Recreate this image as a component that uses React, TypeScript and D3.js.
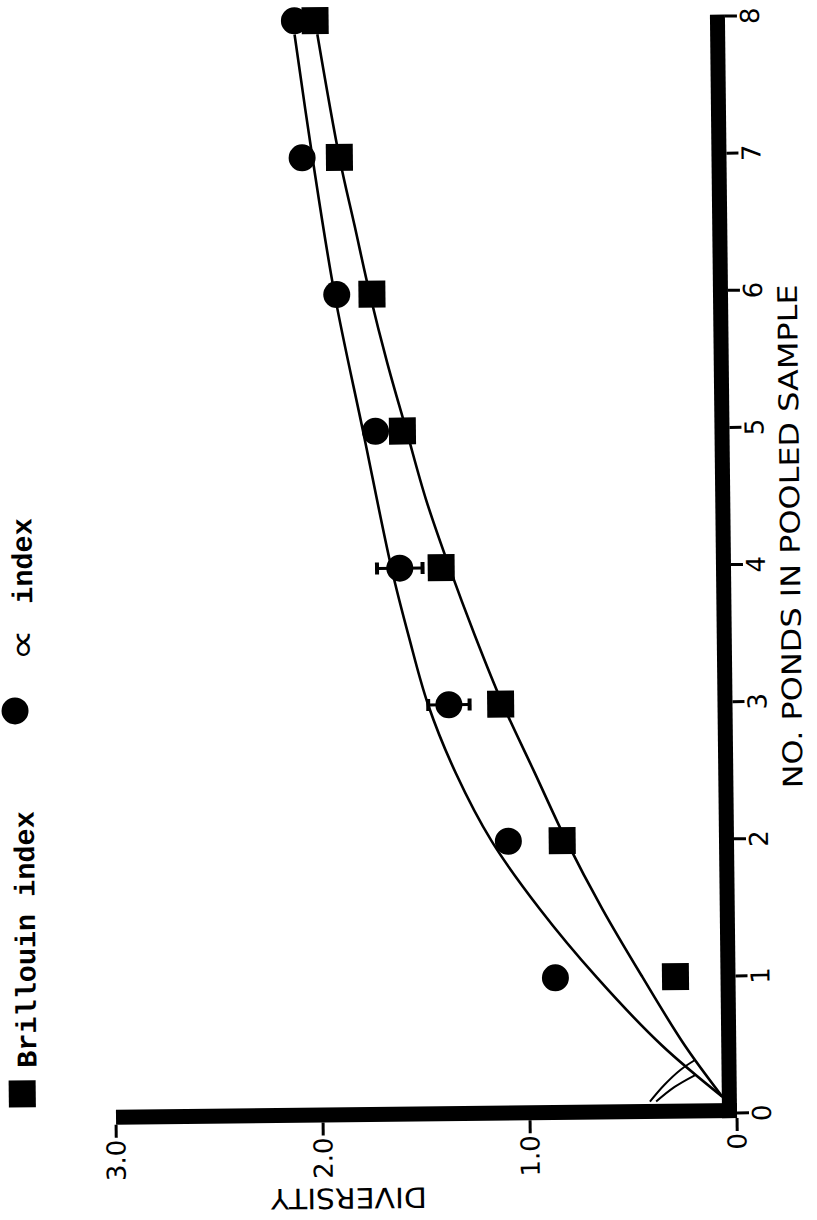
import React, { useEffect, useRef } from 'react';
import * as d3 from 'd3';

const ponds = [1, 2, 3, 4, 5, 6, 7, 8];
const alphaIndex = [0.87, 1.09, 1.37, 1.6, 1.71, 1.89, 2.05, 2.08];
const brillouinIndex = [0.29, 0.83, 1.12, 1.4, 1.58, 1.72, 1.87, 1.98];
const alphaErrPonds = [3, 4];
const alphaErr = [0.1, 0.11];

// hand drawn fitted curves (ponds, diversity)
const alphaFitP = [0.12, 0.5, 1.0, 1.5, 2.0, 2.5, 3.0, 3.5, 4.0, 5.0, 6.0, 7.0, 7.9];
const alphaFitD = [0.07, 0.36, 0.67, 0.94, 1.17, 1.34, 1.47, 1.56, 1.64, 1.77, 1.9, 2.0, 2.08];
const brillFitP = [0.12, 0.5, 1.0, 1.5, 2.0, 2.5, 3.0, 3.5, 4.0, 4.5, 5.0, 5.5, 6.0, 6.5, 7.0, 7.9];
const brillFitD = [0.07, 0.25, 0.45, 0.64, 0.81, 0.96, 1.11, 1.24, 1.36, 1.47, 1.56, 1.65, 1.73, 1.8, 1.87, 1.97];
const hookBP = [0.09, 0.21, 0.32, 0.39];
const hookBD = [0.42, 0.35, 0.27, 0.2];
const hookAP = [0.09, 0.195, 0.28];
const hookAD = [0.39, 0.3, 0.2];

const pondTicks = [0, 1, 2, 3, 4, 5, 6, 7, 8];
const diversityTicks = [0, 1, 2, 3];
const diversityLabels = ['0', '1.0', '2.0', '3.0'];

const App = () => {
  const svgRef = useRef<SVGSVGElement>(null);

  useEffect(() => {
    const root = d3.select(svgRef.current);
    root.selectAll('*').remove();

    // diversity runs right-to-left, ponds bottom-to-top (figure is turned on its side)
    const x = d3.scaleLinear().domain([0, 3]).range([737, 116]);
    const y = d3.scaleLinear().domain([0, 8]).range([1113, 16]);

    // the scan is slightly tilted
    const g = root.append('g').attr('transform', `rotate(-0.63, ${x(0)}, ${y(0)})`);

    const sans = "'DejaVu Sans', sans-serif";
    const mono = "'Liberation Mono', 'DejaVu Sans Mono', monospace";

    // axes: heavy bars
    g.append('rect')
      .attr('x', x(0) - 15).attr('y', y(8) - 1.5)
      .attr('width', 15).attr('height', y(0) + 5 - (y(8) - 1.5))
      .attr('fill', '#000');
    g.append('rect')
      .attr('x', x(3)).attr('y', y(0) - 10)
      .attr('width', x(0) - x(3)).attr('height', 15)
      .attr('fill', '#000');

    pondTicks.forEach(p => {
      g.append('line')
        .attr('x1', x(0)).attr('x2', x(0) + 12)
        .attr('y1', y(p)).attr('y2', y(p))
        .attr('stroke', '#000').attr('stroke-width', 3);
      g.append('text')
        .attr('transform', `translate(${x(0) + 34}, ${y(p)}) rotate(-90)`)
        .attr('text-anchor', 'middle')
        .style('font-family', sans).style('font-size', '26px')
        .text(p);
    });

    diversityTicks.forEach((d, i) => {
      g.append('line')
        .attr('x1', x(d)).attr('x2', x(d))
        .attr('y1', y(0) + 5).attr('y2', y(0) + 18)
        .attr('stroke', '#000').attr('stroke-width', 3);
      g.append('text')
        .attr('transform', `translate(${x(d) + 9}, ${y(0) + 20}) rotate(-90)`)
        .attr('text-anchor', 'end')
        .style('font-family', sans).style('font-size', '26px')
        .text(diversityLabels[i]);
    });

    g.append('text')
      .attr('transform', `translate(806, ${y(4.2)}) rotate(-90)`)
      .attr('text-anchor', 'middle')
      .attr('textLength', 504).attr('lengthAdjust', 'spacingAndGlyphs')
      .style('font-family', sans).style('font-size', '27px')
      .text('NO. PONDS IN POOLED SAMPLE');

    g.append('text')
      .attr('transform', `translate(${x(1.88)}, 1184) rotate(180)`)
      .attr('text-anchor', 'middle')
      .attr('textLength', 156).attr('lengthAdjust', 'spacingAndGlyphs')
      .style('font-family', sans).style('font-size', '28px')
      .text('DIVERSITY');

    // fitted curves
    const line = d3.line<[number, number]>()
      .x(d => x(d[1]))
      .y(d => y(d[0]))
      .curve(d3.curveCatmullRom.alpha(0.5));

    const curves = [
      [alphaFitP, alphaFitD, 2.6],
      [brillFitP, brillFitD, 2.6],
      [hookBP, hookBD, 2],
      [hookAP, hookAD, 2],
    ] as [number[], number[], number][];
    curves.forEach(([ps, ds, w]) => {
      g.append('path')
        .datum(ps.map((p, i) => [p, ds[i]] as [number, number]))
        .attr('fill', 'none')
        .attr('stroke', '#000')
        .attr('stroke-width', w)
        .attr('d', line);
    });

    // error bars on alpha index
    alphaErrPonds.forEach((p, i) => {
      const d = alphaIndex[ponds.indexOf(p)];
      const e = alphaErr[i];
      g.append('line')
        .attr('x1', x(d - e)).attr('x2', x(d + e))
        .attr('y1', y(p)).attr('y2', y(p))
        .attr('stroke', '#000').attr('stroke-width', 3);
      [d - e, d + e].forEach(v => {
        g.append('line')
          .attr('x1', x(v)).attr('x2', x(v))
          .attr('y1', y(p) - 6).attr('y2', y(p) + 6)
          .attr('stroke', '#000').attr('stroke-width', 4);
      });
    });

    // markers
    g.selectAll('circle.alpha')
      .data(ponds)
      .enter().append('circle')
      .attr('class', 'alpha')
      .attr('cx', (p, i) => x(alphaIndex[i]))
      .attr('cy', p => y(p))
      .attr('r', 13.5)
      .attr('fill', '#000');

    g.selectAll('rect.brill')
      .data(ponds)
      .enter().append('rect')
      .attr('class', 'brill')
      .attr('x', (p, i) => x(brillouinIndex[i]) - 13.5)
      .attr('y', p => y(p) - 13.5)
      .attr('width', 27).attr('height', 27)
      .attr('fill', '#000');

    // legend
    g.append('rect').attr('x', 22.5 - 13.5).attr('y', 1086 - 13.5)
      .attr('width', 27).attr('height', 27).attr('fill', '#000');
    g.append('text')
      .attr('transform', 'translate(37, 1060) rotate(-90)')
      .style('font-family', mono).style('font-size', '28.5px').style('font-weight', 'bold')
      .text('Brillouin index');

    g.append('circle').attr('cx', 19.5).attr('cy', 703).attr('r', 13.5).attr('fill', '#000');
    g.append('text')
      .attr('transform', 'translate(39, 637) rotate(-90) scale(1.7, 1.35)')
      .attr('text-anchor', 'middle')
      .style('font-family', sans).style('font-size', '26px')
      .text('\u221D');
    g.append('text')
      .attr('transform', 'translate(38, 596) rotate(-90)')
      .style('font-family', mono).style('font-size', '28.5px').style('font-weight', 'bold')
      .text('index');
  }, []);

  return (
    <svg
      ref={svgRef}
      width={817}
      height={1220}
      style={{ position: 'absolute', left: 0, top: 0, background: '#fff' }}
    />
  );
};

export default App;
